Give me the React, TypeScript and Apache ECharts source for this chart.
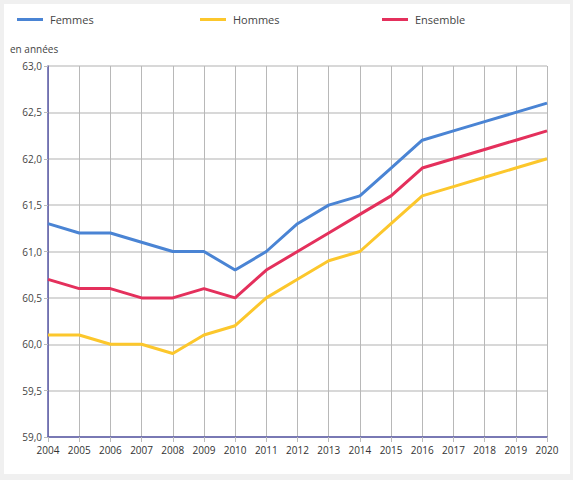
import React, { useEffect, useRef } from "react";
import * as echarts from "echarts";

const years = [
  "2004", "2005", "2006", "2007", "2008", "2009", "2010", "2011", "2012",
  "2013", "2014", "2015", "2016", "2017", "2018", "2019", "2020",
];
const femmes = [61.3, 61.2, 61.2, 61.1, 61.0, 61.0, 60.8, 61.0, 61.3, 61.5, 61.6, 61.9, 62.2, 62.3, 62.4, 62.5, 62.6];
const hommes = [60.1, 60.1, 60.0, 60.0, 59.9, 60.1, 60.2, 60.5, 60.7, 60.9, 61.0, 61.3, 61.6, 61.7, 61.8, 61.9, 62.0];
const ensemble = [60.7, 60.6, 60.6, 60.5, 60.5, 60.6, 60.5, 60.8, 61.0, 61.2, 61.4, 61.6, 61.9, 62.0, 62.1, 62.2, 62.3];

const FONT = "'Open Sans', 'Noto Sans', sans-serif";
const colors = { femmes: "#4a84d4", hommes: "#fcc72c", ensemble: "#e4305c" };

export default function App() {
  const ref = useRef<HTMLDivElement>(null);

  useEffect(() => {
    if (!ref.current) return;
    const chart = echarts.init(ref.current, undefined, { renderer: "svg" });

    const legendItem = (name: string, left: number) => ({
      data: [name],
      left,
      top: 5,
      icon: "rect",
      itemWidth: 26,
      itemHeight: 3,
      itemGap: 0,
      textStyle: { fontFamily: FONT, fontSize: 11, color: "#444", padding: [0, 0, 0, 2] },
      selectedMode: false,
    });

    chart.setOption({
      animation: false,
      backgroundColor: "transparent",
      textStyle: { fontFamily: FONT },
      legend: [
        legendItem("Femmes", 8),
        legendItem("Hommes", 191),
        legendItem("Ensemble", 373),
      ],
      grid: { left: 44, right: 23, top: 62, bottom: 37, containLabel: false },
      graphic: [
        {
          type: "text",
          left: 6,
          top: 40,
          style: { text: "en années", fontFamily: FONT, fontSize: 10, fill: "#444" },
        },
      ],
      xAxis: {
        type: "category",
        data: years,
        boundaryGap: false,
        axisLine: { show: true, lineStyle: { color: "#5a5aa8", width: 1.5 } },
        axisTick: { show: true, length: 5, lineStyle: { color: "#bbbbbb" } },
        axisLabel: { fontFamily: FONT, fontSize: 10, color: "#333", margin: 8 },
        splitLine: { show: true, lineStyle: { color: "#b8b8b8", width: 1 } },
      },
      yAxis: {
        type: "value",
        min: 59,
        max: 63,
        interval: 0.5,
        axisLine: { show: true, lineStyle: { color: "#5a5aa8", width: 1.5 } },
        axisTick: { show: true, length: 4, lineStyle: { color: "#bbbbbb" } },
        axisLabel: {
          fontFamily: FONT,
          fontSize: 10,
          color: "#444",
          margin: 6,
          formatter: (v: number) => v.toFixed(1).replace(".", ","),
        },
        splitLine: { show: true, lineStyle: { color: "#d8d8d8", width: 2 } },
      },
      series: [
        { name: "Femmes", type: "line", data: femmes, color: colors.femmes, showSymbol: false, lineStyle: { width: 3 } },
        { name: "Hommes", type: "line", data: hommes, color: colors.hommes, showSymbol: false, lineStyle: { width: 3 } },
        { name: "Ensemble", type: "line", data: ensemble, color: colors.ensemble, showSymbol: false, lineStyle: { width: 3 } },
      ],
    });

    return () => chart.dispose();
  }, []);

  return (
    <div style={{ position: "fixed", left: 0, top: 0, width: 573, height: 480, background: "#f0f0f0" }}>
      <div
        style={{
          position: "absolute",
          left: 4,
          top: 4,
          width: 566,
          height: 470,
          background: "#ffffff",
        }}
      >
        <div ref={ref} style={{ width: 566, height: 470 }} />
      </div>
    </div>
  );
}
